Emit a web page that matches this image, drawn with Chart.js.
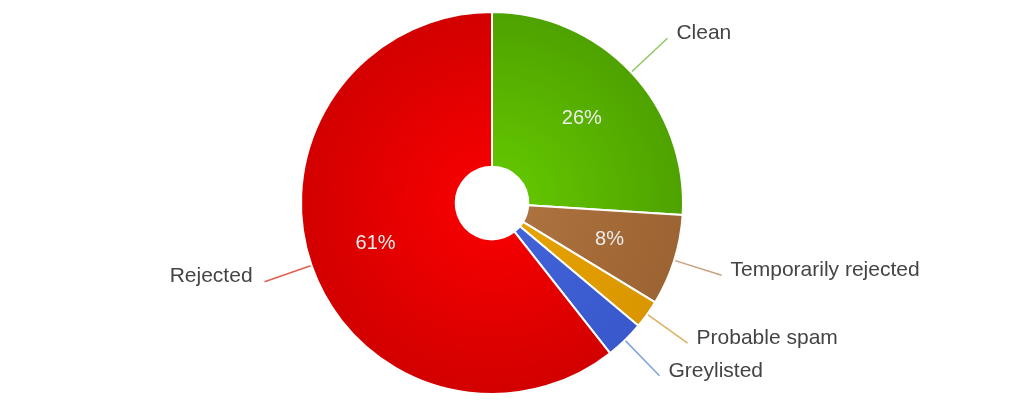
<!DOCTYPE html>
<html>
<head>
<meta charset="utf-8">
<script src="https://cdn.jsdelivr.net/npm/chart.js@4"></script>
<style>
  html, body { margin: 0; padding: 0; background: #fff; }
  #wrap { width: 1024px; height: 416px; }
</style>
</head>
<body>
<div id="wrap"><canvas id="mailChart"></canvas></div>
<script>
// Mail filter results (share of messages, %)
const categories = ['Clean', 'Temporarily rejected', 'Probable spam', 'Greylisted', 'Rejected'];
const shares = [26.0, 7.7, 2.4, 3.3, 60.6];
const innerColors = ['#62c400', '#ac7240', '#e6a200', '#4262d8', '#f40000'];
const outerColors = ['#4ea200', '#9c6432', '#da9600', '#3858cc', '#d20000'];
const lineColors = ['#8cc860', '#c9a07c', '#dcb060', '#7fa3dc', '#e06050'];

(function() {
  'use strict';

  // radial gradient per slice, a little brighter near the hole
  function sliceFill(context) {
    const chart = context.chart;
    const area = chart.chartArea;
    if (!area) return outerColors[context.dataIndex];
    const cx = (area.left + area.right) / 2;
    const cy = (area.top + area.bottom) / 2;
    const R = Math.min(area.right - area.left, area.bottom - area.top) / 2;
    const g = chart.ctx.createRadialGradient(cx, cy, R * 0.19, cx, cy, R);
    g.addColorStop(0, innerColors[context.dataIndex]);
    g.addColorStop(1, outerColors[context.dataIndex]);
    return g;
  }

  // percentages inside + leader lines with names outside
  const sliceLabels = {
    id: 'sliceLabels',
    afterDatasetsDraw(chart) {
      const ctx = chart.ctx;
      const meta = chart.getDatasetMeta(0);
      const total = shares.reduce((a, b) => a + b, 0);
      ctx.save();
      meta.data.forEach((arc, i) => {
        const mid = (arc.startAngle + arc.endAngle) / 2;
        const cos = Math.cos(mid), sin = Math.sin(mid);
        const R = arc.outerRadius;
        const pct = shares[i] / total * 100;

        if (pct >= 5) {
          const r = R * 0.645;
          ctx.font = '20px "Liberation Sans", Arial, sans-serif';
          ctx.fillStyle = '#ececec';
          ctx.textAlign = 'center';
          ctx.textBaseline = 'middle';
          ctx.fillText(Math.round(pct) + '%', arc.x + cos * r, arc.y + sin * r);
        }

        const x0 = arc.x + cos * (R + 1), y0 = arc.y + sin * (R + 1);
        const x1 = arc.x + cos * R * 1.26, y1 = arc.y + sin * R * 1.26;
        ctx.strokeStyle = lineColors[i];
        ctx.lineWidth = 1.5;
        ctx.beginPath();
        ctx.moveTo(x0, y0);
        ctx.lineTo(x1, y1);
        ctx.stroke();

        const right = cos >= 0;
        ctx.font = '21px "Liberation Sans", Arial, sans-serif';
        ctx.fillStyle = '#444';
        ctx.textAlign = right ? 'left' : 'right';
        ctx.textBaseline = 'middle';
        ctx.fillText(categories[i], x1 + (right ? 9 : -12), y1 - 5);
      });
      ctx.restore();
    }
  };

  new Chart(document.getElementById('mailChart'), {
    type: 'doughnut',
    data: {
      labels: categories,
      datasets: [{
        data: shares,
        backgroundColor: sliceFill,
        borderColor: '#ffffff',
        borderWidth: 2
      }]
    },
    options: {
      responsive: true,
      maintainAspectRatio: false,
      animation: false,
      cutout: '19%',
      layout: { padding: { top: 11, bottom: 21, left: 0, right: 40 } },
      plugins: {
        legend: { display: false },
        tooltip: { enabled: false }
      }
    },
    plugins: [sliceLabels]
  });
})();
</script>
</body>
</html>
